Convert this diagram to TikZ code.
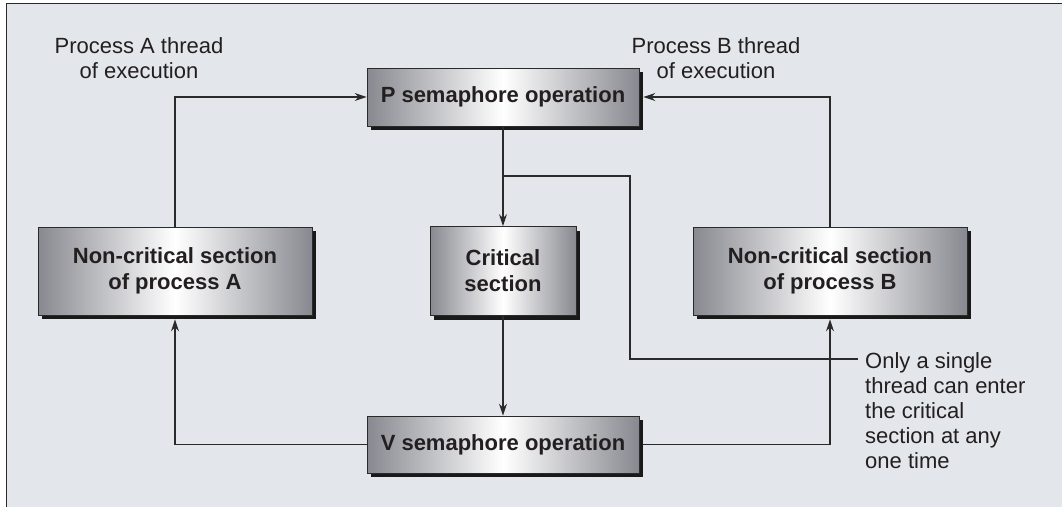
\documentclass[tikz,border=0pt]{standalone}
\usepackage{fontspec}
\setmainfont{Liberation Sans}
\usetikzlibrary{positioning,arrows.meta,shadows}

\definecolor{panel}{HTML}{E3E6EB}
\definecolor{boxedge}{HTML}{888990}
\definecolor{wire}{HTML}{2A2A2A}
\definecolor{ink}{HTML}{231F20}

\begin{document}
\begin{tikzpicture}[x=1pt, y=-1pt,
  every node/.style={font=\fontsize{22}{25}\selectfont, text=ink},
  opbox/.style={draw=wire, line width=0.8pt, left color=boxedge, right color=boxedge, middle color=white,
    font=\fontsize{22}{26}\selectfont\bfseries, align=center, inner sep=0pt,
    drop shadow={shadow xshift=4pt, shadow yshift=-4pt, fill=black!90, opacity=1}},
  link/.style={draw=wire, line width=1.2pt, -{Stealth[length=12pt,width=8pt]}},
  wireline/.style={draw=wire, line width=1.2pt}]
  \useasboundingbox (0,0) rectangle (1062,507);
  \fill[panel] (6.5,3.5) rectangle (1062,507);
  \draw[wireline] (6.5,507) |- (1062,3.5);

  \node[opbox, minimum width=272pt, minimum height=58pt] (P) at (503,97) {P semaphore operation};
  \node[opbox, minimum width=146pt, minimum height=89pt] (crit) at (503,271) {Critical\\section};
  \node[opbox, minimum width=274pt, minimum height=88pt] (ncA) at (175,271) {Non-critical section\\of process A};
  \node[opbox, minimum width=274pt, minimum height=88pt] (ncB) at (830,271) {Non-critical section\\of process B};
  \node[opbox, minimum width=272pt, minimum height=57pt] (V) at (503,444.5) {V semaphore operation};

  \node[align=center] (labA) at (139,58) {Process A thread\\of execution};
  \node[align=center] (labB) at (716,58) {Process B thread\\of execution};
  \node[align=left, anchor=west, inner xsep=7pt, inner ysep=0pt] (note) at (858,410.5)
    {Only a single\\thread can enter\\the critical\\section at any\\one time};

  \draw[link] (ncA.north) |- (P.west);
  \draw[link, shorten >=4pt] (ncB.north) |- (P.east);
  \draw[link] (P) -- (crit);
  \draw[link] (crit) -- (V);
  \draw[link, shorten >=4pt] (V.west) -| (ncA.south);
  \draw[link, shorten <=4pt, shorten >=4pt] (V.east) -| (ncB.south);

  \coordinate (split) at (503,176);
  \coordinate (bend) at (630,359);
  \draw[wireline] (split) -| (bend) -- (bend -| note.west);
\end{tikzpicture}
\end{document}
